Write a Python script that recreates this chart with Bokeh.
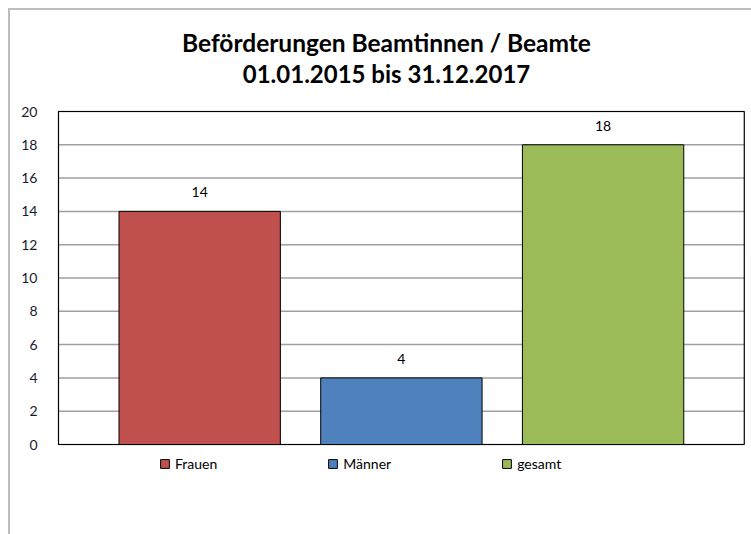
from bokeh.plotting import figure
from bokeh.models import (ColumnDataSource, Range1d, LabelSet, Legend, LegendItem,
                          FixedTicker, Label)
from bokeh.core.properties import value
from bokeh.embed import file_html
from bokeh.resources import INLINE

categories = ["Frauen", "Männer", "gesamt"]
values = [14, 4, 18]
colors = ["#C0504D", "#4F81BD", "#9BBB59"]
y_ticks = [0, 2, 4, 6, 8, 10, 12, 14, 16, 18, 20]
title_lines = ["Beförderungen Beamtinnen / Beamte", "01.01.2015 bis 31.12.2017"]

FONT = "Lato"

# ---- layout constants (pixels) ----
W, H = 743, 526
LEFT = 46                  # frame starts 2px left of the plot-area border
CAT_PX = 201.7             # pixels per category
Y_PX = 333 / 20            # pixels per y unit
TOP_GAP = 101              # frame top -> value 20
BOT_GAP = H - 434          # value 0 -> frame bottom
X_LO, X_HI = -0.2, 3.2     # plot-area extent in category units

x0 = X_LO - 2 / CAT_PX
x1 = x0 + (W - LEFT) / CAT_PX
y1 = 20 + TOP_GAP / Y_PX
y0 = -BOT_GAP / Y_PX

positions = [i + 0.5 for i in range(len(categories))]
source = ColumnDataSource(dict(x=positions, top=values, color=colors,
                               label=[str(v) for v in values]))

p = figure(width=W, height=H, output_backend="svg", toolbar_location=None,
           x_range=Range1d(x0, x1), y_range=Range1d(y0, y1),
           min_border_left=LEFT, min_border_right=0, min_border_top=0, min_border_bottom=0)
p.styles = {"margin-left": "8px", "margin-top": "8px",
            "border-top": "2px solid #bdbdbd", "border-left": "2px solid #bdbdbd"}

# grid lines at the y ticks
p.segment(x0=[X_LO] * len(y_ticks), x1=[X_HI] * len(y_ticks), y0=y_ticks, y1=y_ticks,
          line_color="#a0a0a0", line_width=1.5)

renderers = []
for i in range(len(categories)):
    sub = ColumnDataSource(dict(x=[positions[i]], top=[values[i]]))
    r = p.vbar(x="x", top="top", bottom=0, width=0.8, source=sub,
               fill_color=colors[i], line_color="#000000", line_width=1)
    renderers.append(r)

# plot-area border
p.quad(left=[X_LO], right=[X_HI], bottom=[y_ticks[0]], top=[y_ticks[-1]],
       fill_color=None, line_color="#000000", line_width=1.2)

labels = LabelSet(x="x", y="top", text="label", source=source, y_offset=19,
                  text_align="center", text_baseline="middle", text_font=value(FONT),
                  text_font_size=value("14px"), text_color="#000000")
p.add_layout(labels)

# title lines
title_cx = X_LO + (386 - 58) / CAT_PX
for txt, ypix, fs in zip(title_lines, [42, 73], ["24.5px", "24px"]):
    p.add_layout(Label(x=title_cx, y=20 + (111 - ypix) / Y_PX, text=txt,
                       text_align="center", text_baseline="middle", text_font=FONT,
                       text_font_style="bold", text_font_size=fs, text_color="#000000"))

legend = Legend(items=[LegendItem(label=categories[i], renderers=[renderers[i]])
                       for i in range(len(categories))],
                orientation="horizontal", location=(103, 64), spacing=110,
                glyph_width=11, glyph_height=11, label_standoff=5,
                label_text_font=FONT, label_text_font_size="14px",
                label_text_color="#000000", border_line_color=None,
                background_fill_alpha=0, padding=0, margin=0, label_height=14)
p.add_layout(legend, "center")

p.xaxis.visible = False
p.xgrid.visible = False
p.ygrid.visible = False
p.yaxis.ticker = FixedTicker(ticks=y_ticks)
p.yaxis.axis_line_color = None
p.yaxis.major_tick_line_color = None
p.yaxis.minor_tick_line_color = None
p.yaxis.major_label_standoff = 13
p.yaxis.major_label_text_font = FONT
p.yaxis.major_label_text_font_size = "14px"
p.yaxis.major_label_text_color = "#1a1a2e"
p.outline_line_color = None
p.background_fill_color = "#ffffff"

open("out.html", "w").write(file_html(p, INLINE))
